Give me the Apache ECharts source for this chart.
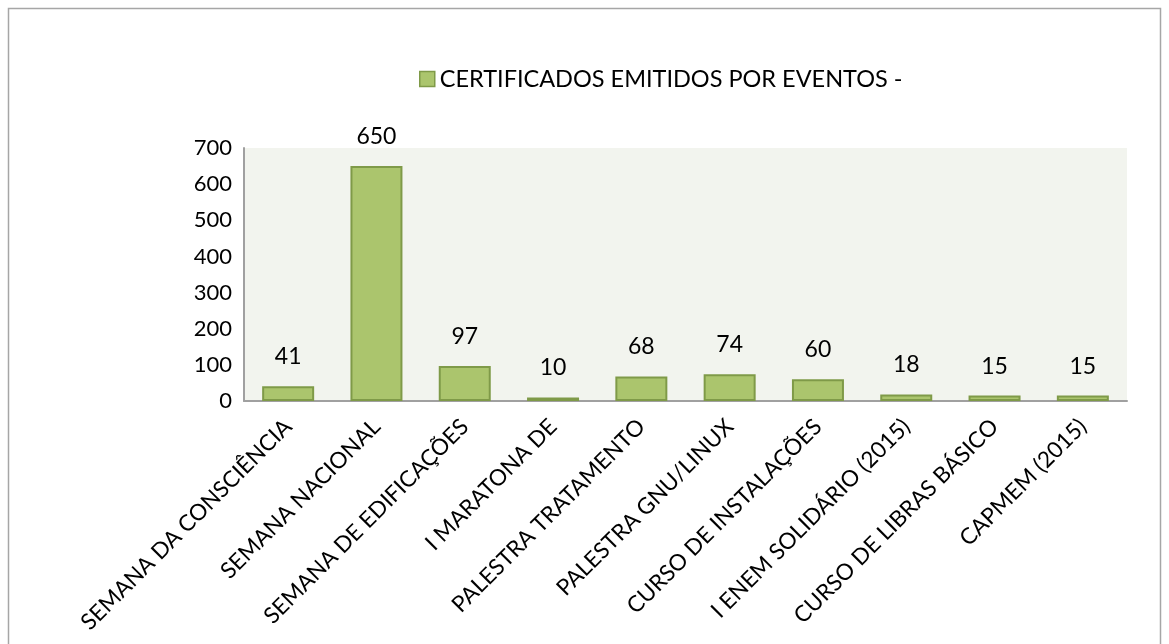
<!DOCTYPE html>
<html lang="pt">
<head>
    <meta charset="UTF-8">
    <title>Certificados emitidos por eventos</title>
    <style>
        *{ padding:0; margin:0; }
        body{ background:#fff; }
    </style>
    <script type="text/javascript" src="https://cdn.jsdelivr.net/npm/echarts@6/dist/echarts.min.js"></script>
</head>
<body>
    <div id="main" style="width:1169px;height:644px;"></div>
    <script type="text/javascript">
    var eventos = [
        'SEMANA DA CONSCIÊNCIA',
        'SEMANA NACIONAL',
        'SEMANA DE EDIFICAÇÕES',
        'I MARATONA DE',
        'PALESTRA TRATAMENTO',
        'PALESTRA GNU/LINUX',
        'CURSO DE INSTALAÇÕES',
        'I ENEM SOLIDÁRIO (2015)',
        'CURSO DE LIBRAS BÁSICO',
        'CAPMEM (2015)'
    ];
    var certificados = [41, 650, 97, 10, 68, 74, 60, 18, 15, 15];
    var serieNome = 'CERTIFICADOS EMITIDOS POR EVENTOS -';

    var fonte = 'Lato, "Open Sans", sans-serif';
    var myChart = echarts.init(document.getElementById('main'));

    var option = {
        animation: false,
        textStyle: { fontFamily: fonte },
        graphic: [{
            type: 'rect',
            shape: { x: 8.5, y: 8.5, width: 1152, height: 700 },
            style: { fill: 'none', stroke: '#a6a6a6', lineWidth: 1.5 },
            silent: true
        }],
        legend: {
            top: 62,
            left: 414,
            icon: 'rect',
            itemWidth: 15,
            itemHeight: 15,
            itemGap: 3,
            itemStyle: { borderColor: '#7f9a48', borderWidth: 1.5 },
            textStyle: { fontSize: 23.5, color: '#000', fontFamily: fonte },
            data: [serieNome]
        },
        grid: {
            left: 244,
            right: 42,
            top: 148,
            bottom: 243,
            show: true,
            backgroundColor: '#f2f4ee',
            borderWidth: 0
        },
        xAxis: {
            type: 'category',
            data: eventos,
            axisLine: { lineStyle: { color: '#a0a0a0', width: 2 } },
            axisTick: { show: false },
            axisLabel: {
                rotate: 45,
                interval: 0,
                margin: 22,
                fontSize: 22.5,
                color: '#000',
                fontFamily: fonte
            }
        },
        yAxis: {
            type: 'value',
            min: 0,
            max: 700,
            interval: 100,
            splitLine: { show: false },
            axisLine: { show: true, lineStyle: { color: '#a0a0a0', width: 2 } },
            axisTick: { show: false },
            axisLabel: { fontSize: 22, color: '#000', margin: 12, fontFamily: fonte }
        },
        series: [{
            name: serieNome,
            type: 'bar',
            data: certificados,
            barWidth: 52,
            itemStyle: {
                color: '#abc56d',
                borderColor: '#7f9a48',
                borderWidth: 2
            },
            label: {
                show: true,
                position: 'top',
                distance: 18,
                fontSize: 23,
                color: '#000',
                fontFamily: fonte
            }
        }]
    };

    myChart.setOption(option);
    </script>
</body>
</html>
